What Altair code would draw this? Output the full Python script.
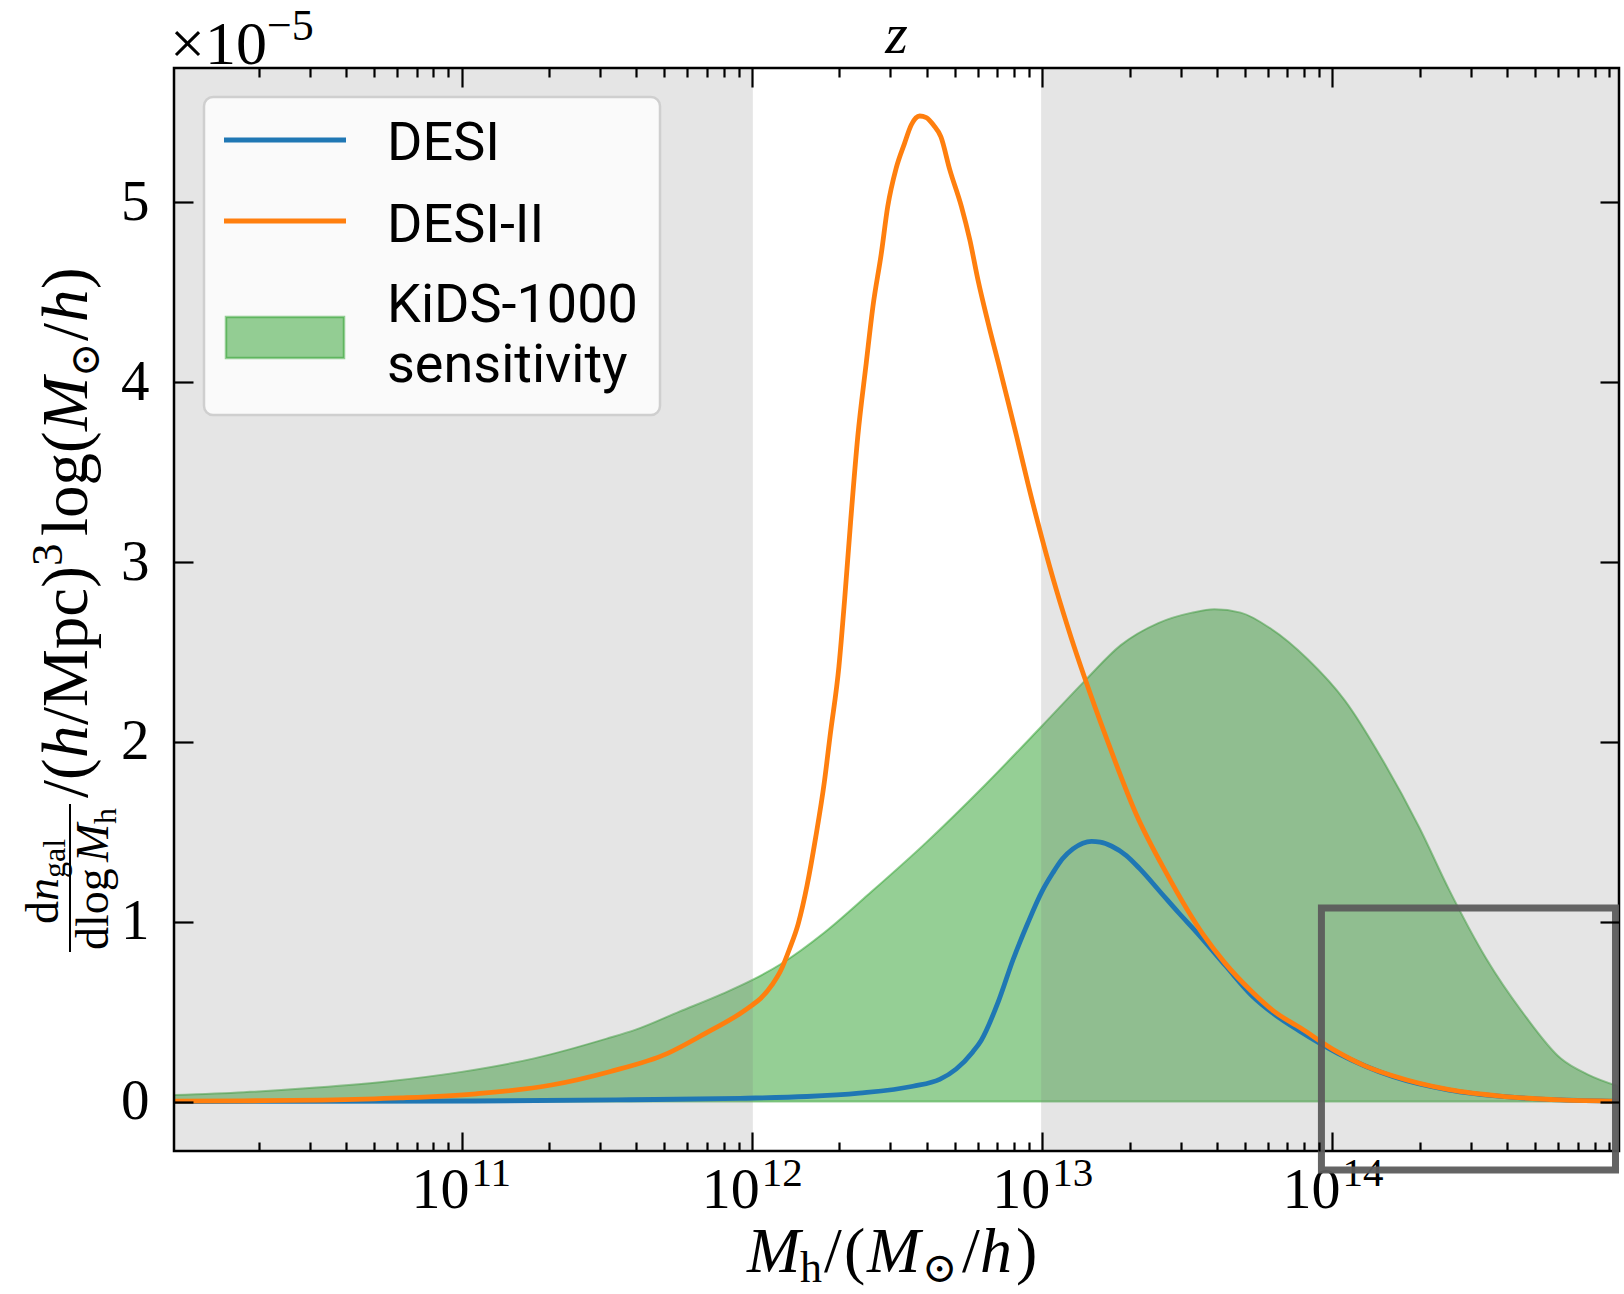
import altair as alt
import pandas as pd

# ---------------- data ----------------
# halo mass given as log10(M_h / (M_sun/h)); values in units of 1e-5
DESI_LOGM = [10.01, 11.05, 11.58, 11.96, 12.19, 12.37, 12.555, 12.647, 12.704, 12.761,
             12.79, 12.85, 12.9, 12.95, 13.0, 13.037, 13.07, 13.106, 13.14, 13.17,
             13.2, 13.24, 13.29, 13.336, 13.41, 13.47, 13.529, 13.632, 13.722, 13.8,
             13.889, 14.017, 14.21, 14.402, 14.594, 14.787, 14.985]
DESI_N = [0.0, 0.003, 0.01, 0.018, 0.028, 0.047, 0.085, 0.123, 0.181, 0.276,
          0.34, 0.56, 0.79, 0.99, 1.17, 1.272, 1.35, 1.405, 1.437, 1.447,
          1.443, 1.42, 1.368, 1.295, 1.16, 1.05, 0.947, 0.755, 0.59, 0.485,
          0.39, 0.27, 0.138, 0.064, 0.027, 0.009, 0.002]

DESI2_LOGM = [10.01, 10.25, 10.52, 10.79, 11.05, 11.31, 11.51, 11.71, 11.84, 11.96,
              12.0, 12.03, 12.07, 12.1, 12.13, 12.16, 12.19, 12.22, 12.25, 12.27,
              12.3, 12.32, 12.34, 12.365, 12.394, 12.417, 12.446, 12.468, 12.497, 12.526,
              12.549, 12.578, 12.601, 12.626, 12.651, 12.682, 12.722, 12.751, 12.779, 12.814,
              12.855, 12.872, 12.912, 12.952, 12.998, 13.05, 13.1, 13.145, 13.222, 13.324,
              13.427, 13.555, 13.63, 13.722, 13.8, 13.889, 14.017, 14.11, 14.21, 14.402,
              14.594, 14.787, 14.985]
DESI2_N = [0.002, 0.004, 0.008, 0.02, 0.043, 0.092, 0.166, 0.268, 0.379, 0.49,
           0.535, 0.573, 0.65, 0.73, 0.85, 0.99, 1.2, 1.47, 1.78, 2.04,
           2.42, 2.80, 3.22, 3.70, 4.106, 4.42, 4.717, 4.977, 5.19, 5.329,
           5.431, 5.481, 5.472, 5.43, 5.366, 5.181, 4.977, 4.791, 4.569, 4.33,
           4.07, 3.96, 3.70, 3.43, 3.141, 2.84, 2.58, 2.364, 2.019, 1.598,
           1.273, 0.928, 0.77, 0.612, 0.50, 0.41, 0.276, 0.20, 0.142, 0.066,
           0.028, 0.009, 0.002]

KIDS_LOGM = [10.01, 10.25, 10.5, 10.75, 11.0, 11.25, 11.5, 11.6, 11.75, 11.9,
             12.0, 12.1, 12.25, 12.4, 12.6, 12.8, 13.0, 13.15, 13.27, 13.4,
             13.516, 13.593, 13.684, 13.786, 13.915, 14.043, 14.171, 14.3, 14.402, 14.53,
             14.659, 14.787, 14.88, 14.985]
KIDS_N = [0.036, 0.052, 0.078, 0.113, 0.165, 0.24, 0.35, 0.40, 0.50, 0.60,
          0.675, 0.765, 0.94, 1.15, 1.44, 1.755, 2.09, 2.345, 2.537, 2.661,
          2.719, 2.738, 2.719, 2.632, 2.46, 2.23, 1.904, 1.521, 1.177, 0.794,
          0.487, 0.239, 0.15, 0.085]

SERIES = ["DESI", "DESI-II", "KiDS-1000", "sensitivity"]

X_DOMAIN = [10 ** 10.0096, 10 ** 14.987]
Y_DOMAIN = [-0.275, 5.748]

X_MAJOR = [1e11, 1e12, 1e13, 1e14]
X_MAJOR_EXP = ["11", "12", "13", "14"]
X_MINOR = [k * 10.0 ** e for e in range(10, 15) for k in range(2, 10)]
Y_TICKS = [0, 1, 2, 3, 4, 5]

# grey (outside) regions: x < 1e12 and x > 1e13
SPAN_START = [X_DOMAIN[0], 1e13]
SPAN_END = [1e12, X_DOMAIN[1]]

# grey highlight box (lower right)
BOX_M = [10 ** 13.962, 10 ** 14.975]
BOX_N = [-0.381, 1.076]

# ---------------- layout / styles ----------------
W, H = 1445, 1083
SERIF = "Liberation Serif, DejaVu Serif, serif"
SANS = "Roboto, Liberation Sans, sans-serif"
BLUE, ORANGE, GREEN = "#1f77b4", "#ff7f0e", "#2ca02c"

xs = alt.Scale(type="log", domain=X_DOMAIN, nice=False)
ys = alt.Scale(domain=Y_DOMAIN, nice=False, zero=False)


def tick_axis(orient, values, size, offset):
    return alt.Axis(orient=orient, values=values, tickSize=size, tickWidth=2.2,
                    tickColor="black", ticks=True, labels=False, domain=False,
                    grid=False, title=None, offset=offset, zindex=1)


df_desi = pd.DataFrame({"m": [10 ** v for v in DESI_LOGM], "n": DESI_N})
df_desi2 = pd.DataFrame({"m": [10 ** v for v in DESI2_LOGM], "n": DESI2_N})
df_kids = pd.DataFrame({"m": [10 ** v for v in KIDS_LOGM], "n": KIDS_N})
df_span = pd.DataFrame({"s0": SPAN_START, "s1": SPAN_END})
df_major = pd.DataFrame({"m": X_MAJOR, "base": ["10"] * 4, "exp": X_MAJOR_EXP})
df_box = pd.DataFrame({"m0": [BOX_M[0]], "m1": [BOX_M[1]], "n0": [BOX_N[0]], "n1": [BOX_N[1]]})
ONE = pd.DataFrame({"k": [0]})

area = alt.Chart(df_kids).mark_area(
    fill=GREEN, fillOpacity=0.5, stroke=GREEN, strokeOpacity=0.5, strokeWidth=2,
    clip=True, interpolate="monotone"
).encode(
    x=alt.X("m:Q", scale=xs, axis=tick_axis("top", X_MINOR, 9, -H)),
    y=alt.Y("n:Q", scale=ys, axis=tick_axis("right", Y_TICKS, 19, -W)),
    y2=alt.datum(0),
)

spans = alt.Chart(df_span).mark_rect(
    color="#808080", opacity=0.2, stroke="#808080", strokeWidth=2
).encode(
    x=alt.X("s0:Q", scale=xs, axis=tick_axis("top", X_MAJOR, 19, -H)),
    x2="s1:Q",
    y=alt.value(0),
    y2=alt.value(H),
)

blue = alt.Chart(df_desi).mark_line(
    color=BLUE, strokeWidth=4.8, clip=True, interpolate="monotone"
).encode(
    x=alt.X("m:Q", scale=xs, axis=tick_axis("bottom", X_MAJOR, 19, -H)),
    y=alt.Y("n:Q", scale=ys, axis=tick_axis("left", Y_TICKS, 19, -W)),
)

orange = alt.Chart(df_desi2).mark_line(
    color=ORANGE, strokeWidth=4.8, clip=True, interpolate="monotone"
).encode(
    x=alt.X("m:Q", scale=xs, axis=tick_axis("bottom", X_MINOR, 9, -H)),
    y=alt.Y("n:Q", scale=ys, axis=alt.Axis(
        orient="left", values=Y_TICKS, ticks=False, tickSize=0, domain=False, grid=False,
        labelFont=SERIF, labelFontSize=57, labelColor="black", labelPadding=25,
        title=None, format="d")),
)

xlab_base = alt.Chart(df_major).mark_text(
    font=SERIF, fontSize=58, align="right", baseline="alphabetic", dx=8, color="black"
).encode(x=alt.X("m:Q", scale=xs, axis=None), y=alt.value(H + 57), text="base:N")

xlab_exp = alt.Chart(df_major).mark_text(
    font=SERIF, fontSize=41, align="left", baseline="alphabetic", dx=10, color="black"
).encode(x=alt.X("m:Q", scale=xs, axis=None), y=alt.value(H + 35), text="exp:N")

box = alt.Chart(df_box).mark_rect(
    fill="transparent", stroke="#5c5c5c", strokeWidth=7, strokeOpacity=0.95, clip=False
).encode(
    x=alt.X("m0:Q", scale=xs, axis=None), x2="m1:Q",
    y=alt.Y("n0:Q", scale=ys, axis=None), y2="n1:Q",
)


def txt(s, x, y, size, style="normal", angle=0, align="left", baseline="alphabetic", font=SERIF):
    kw = dict(text=s, fontSize=size, fontStyle=style, align=align, baseline=baseline,
              font=font, color="black")
    if angle:
        kw["angle"] = angle
    return alt.Chart(ONE).mark_text(**kw).encode(x=alt.value(x), y=alt.value(y))


# legend built from marks
leg_box = alt.Chart(ONE).mark_rect(
    fill="white", fillOpacity=0.8, stroke="#cfcfcf", strokeWidth=2.5, cornerRadius=9
).encode(x=alt.value(30), x2=alt.value(486), y=alt.value(29), y2=alt.value(347))
leg_blue = alt.Chart(ONE).mark_rule(color=BLUE, strokeWidth=4.8).encode(
    x=alt.value(50), x2=alt.value(172), y=alt.value(72))
leg_orange = alt.Chart(ONE).mark_rule(color=ORANGE, strokeWidth=4.8).encode(
    x=alt.value(50), x2=alt.value(172), y=alt.value(153))
leg_green = alt.Chart(ONE).mark_rect(
    fill=GREEN, fillOpacity=0.5, stroke=GREEN, strokeOpacity=0.5, strokeWidth=2.5
).encode(x=alt.value(52), x2=alt.value(170), y=alt.value(249), y2=alt.value(290))
leg_texts = [
    txt(SERIES[0], 213, 92, 54, font=SANS),
    txt(SERIES[1], 213, 174, 54, font=SANS),
    txt(SERIES[2], 213, 254, 54, font=SANS),
    txt(SERIES[3], 213, 314, 54, font=SANS),
]

# title, offset text
extra = [
    txt("z", W / 2, -15, 58, style="italic", align="center"),
    txt("\u00d710", -4, -4, 62),
    txt("\u22125", 93, -28, 44),
]

# x axis title  M_h/(M_sun/h)
XB = H + 121
xtitle = [
    txt("M", 573, XB, 64, style="italic"),
    txt("h", 626, XB + 10, 44),
    txt("/", 650, XB, 64),
    txt("(", 670, XB, 64),
    txt("M", 693, XB, 64, style="italic"),
    txt("\u2299", 748, XB + 10, 42),
    txt("/", 788, XB, 64),
    txt("h", 806, XB, 64, style="italic"),
    txt(")", 842, XB, 64),
]

# y axis title (rotated)
YB = -87
Y0 = 730
ytitle = [
    txt("/(", YB, Y0, 65, angle=270),
    txt("h", YB, Y0 - 40, 65, style="italic", angle=270),
    txt("/Mpc)", YB, Y0 - 73, 65, angle=270),
    txt("3", YB - 25, Y0 - 232, 45, angle=270),
    txt("log(", YB, Y0 - 262, 65, angle=270),
    txt("M", YB, Y0 - 367, 65, style="italic", angle=270),
    txt("\u2299", YB + 12, Y0 - 421, 41, angle=270),
    txt("/", YB, Y0 - 457, 65, angle=270),
    txt("h", YB, Y0 - 476, 65, style="italic", angle=270),
    txt(")", YB, Y0 - 509, 65, angle=270),
    # fraction dn_gal / dlog M_h
    txt("d", -116, 856, 46, angle=270),
    txt("n", -116, 833, 46, style="italic", angle=270),
    txt("gal", -109, 810, 32, angle=270),
    txt("dlog", -66, 882, 46, angle=270),
    txt("M", -66, 794, 46, style="italic", angle=270),
    txt("h", -58, 756, 32, angle=270),
]
frac_bar = alt.Chart(ONE).mark_rule(color="black", strokeWidth=2).encode(
    x=alt.value(-104), y=alt.value(736), y2=alt.value(884))

spine = alt.Chart(ONE).mark_rect(fill="transparent", stroke="black", strokeWidth=2.5).encode(
    x=alt.value(0), x2=alt.value(W), y=alt.value(0), y2=alt.value(H))

layers = [area, spans, blue, orange, xlab_base, xlab_exp,
          leg_box, leg_blue, leg_orange, leg_green] + leg_texts + extra + xtitle + ytitle + \
         [frac_bar, spine, box]

chart = alt.layer(*layers).resolve_axis(x="independent", y="independent").properties(
    width=W, height=H,
    padding={"left": 174, "top": 68, "right": 5, "bottom": 143},
    autosize=alt.AutoSizeParams(type="none"),
    background="white",
).configure_view(stroke=None)

chart.save("out.html", embed_options={"renderer": "svg", "actions": False})
